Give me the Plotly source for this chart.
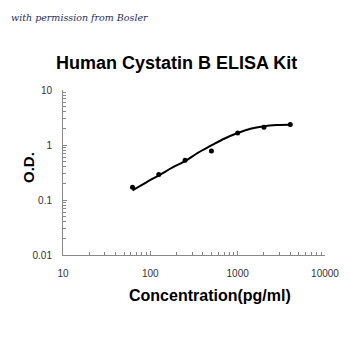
import plotly.graph_objects as go

# Data
conc = [62.5, 125, 250, 500, 1000, 2000, 4000]
od = [0.17, 0.29, 0.53, 0.78, 1.65, 2.1, 2.35]

curve_x = [62.5, 90, 125, 180, 250, 350, 500, 700, 1000, 1400, 2000, 2800, 4000]
curve_y = [0.15, 0.21, 0.28, 0.39, 0.51, 0.72, 0.98, 1.3, 1.65, 1.98, 2.2, 2.3, 2.33]

x_tickvals = [10, 100, 1000, 10000]
x_ticktext = ["10", "100", "1000", "10000"]
y_tickvals = [0.01, 0.1, 1, 10]
y_ticktext = ["0.01", "0.1", "1", "10"]
x_minor = [m * d for d in (10, 100, 1000) for m in range(2, 10)]
y_minor = [m * d for d in (0.01, 0.1, 1) for m in range(2, 10)]

L, R, T, B = 63, 25, 90, 95
PW, PH = 350 - L - R, 350 - T - B

def px(xp):
    return (xp - L) / PW

def py(yp):
    return (350 - B - yp) / PH

fig = go.Figure()
fig.add_trace(go.Scatter(x=curve_x, y=curve_y, mode="lines",
                         line=dict(color="black", width=2, shape="spline"),
                         hoverinfo="skip", showlegend=False))
fig.add_trace(go.Scatter(x=conc, y=od, mode="markers",
                         marker=dict(color="black", size=5),
                         showlegend=False))

tickfont = dict(family="Liberation Sans, Arial", size=10, color="#333333")
fig.update_layout(
    width=350, height=350,
    margin=dict(l=L, r=R, t=T, b=B),
    paper_bgcolor="white", plot_bgcolor="white",
    xaxis=dict(type="log", range=[1, 4], tickvals=x_tickvals, ticktext=x_ticktext,
               ticks="inside", ticklen=4, tickcolor="#888888", ticklabelstandoff=9,
               showline=True, linecolor="#888888", linewidth=1,
               showgrid=False, zeroline=False, tickfont=tickfont,
               minor=dict(tickvals=x_minor, ticks="inside", ticklen=3, tickcolor="#888888")),
    yaxis=dict(type="log", range=[-2, 1], tickvals=y_tickvals, ticktext=y_ticktext,
               ticks="inside", ticklen=4, tickcolor="#888888", ticklabelstandoff=8,
               showline=True, linecolor="#888888", linewidth=1,
               showgrid=False, zeroline=False, tickfont=tickfont,
               minor=dict(tickvals=y_minor, ticks="inside", ticklen=3, tickcolor="#888888")),
)
fig.add_annotation(text="<b>Human Cystatin B ELISA Kit</b>", xref="paper", yref="paper",
                   x=px(176), y=py(63), xanchor="center", yanchor="middle", showarrow=False,
                   font=dict(family="Liberation Sans, Arial", size=18, color="black"))
fig.add_annotation(text="<b>Concentration(pg/ml)</b>", xref="paper", yref="paper",
                   x=px(210), y=py(295), xanchor="center", yanchor="middle", showarrow=False,
                   font=dict(family="Liberation Sans, Arial", size=16, color="black"))
fig.add_annotation(text="<b>O.D.</b>", xref="paper", yref="paper", textangle=-90,
                   x=px(28), y=py(168), xanchor="center", yanchor="middle", showarrow=False,
                   font=dict(family="Liberation Sans, Arial", size=15, color="black"))
fig.add_annotation(text="<i>with permission from Bosler</i>", xref="paper", yref="paper",
                   x=px(9), y=py(17), xanchor="left", yanchor="middle",
                   showarrow=False,
                   font=dict(family="DejaVu Serif", size=9.5, color="#1f2d5a"))
fig.write_html("out.html")
